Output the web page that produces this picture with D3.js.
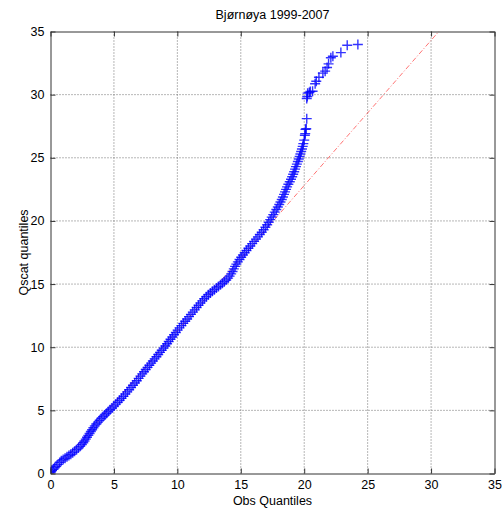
<!DOCTYPE html>
<html>
<head>
<meta charset="utf-8">
<script src="https://cdn.jsdelivr.net/npm/d3@7"></script>
<style>
  html, body { margin: 0; padding: 0; background: #fff; }
  svg text { font-family: "Liberation Sans", Arial, sans-serif; font-size: 12.5px; fill: #000; }
</style>
</head>
<body>
<svg id="chart" width="503" height="508"></svg>
<script>
// Sorted sample quantiles: observed wind speed vs QuikSCAT wind speed (m/s)
const obsQuantiles = [
  0.00, 0.05, 0.12, 0.22, 0.33, 0.45, 0.58, 0.72, 0.85, 1.00,
  1.15, 1.30, 1.45, 1.60, 1.75, 1.90, 2.05, 2.20, 2.34, 2.47,
  2.58, 2.68, 2.78, 2.88, 2.98, 3.08, 3.18, 3.28, 3.38, 3.49,
  3.61, 3.74, 3.87, 4.00, 4.14, 4.28, 4.42, 4.56, 4.70, 4.85,
  5.00, 5.15, 5.30, 5.45, 5.60, 5.75, 5.90, 6.05, 6.20, 6.35,
  6.50, 6.65, 6.80, 6.95, 7.09, 7.23, 7.37, 7.51, 7.65, 7.79,
  7.93, 8.07, 8.21, 8.35, 8.49, 8.63, 8.77, 8.91, 9.05, 9.19,
  9.32, 9.46, 9.60, 9.74, 9.88, 10.02, 10.17, 10.32, 10.47, 10.62,
  10.77, 10.92, 11.07, 11.22, 11.37, 11.52, 11.67, 11.82, 11.97, 12.12,
  12.28, 12.44, 12.60, 12.76, 12.92, 13.08, 13.24, 13.40, 13.55, 13.70,
  13.85, 14.00, 14.12, 14.24, 14.35, 14.45, 14.55, 14.65, 14.77, 14.90,
  15.03, 15.17, 15.31, 15.45, 15.60, 15.75, 15.90, 16.05, 16.20, 16.35,
  16.50, 16.65, 16.80, 16.94, 17.08, 17.20, 17.32, 17.44, 17.56, 17.68,
  17.80, 17.92, 18.03, 18.13, 18.23, 18.32, 18.41, 18.49, 18.57, 18.65,
  18.75, 18.86, 18.96, 19.05, 19.13, 19.21, 19.28, 19.35, 19.42, 19.50,
  19.57, 19.64, 19.70, 19.76, 19.82, 19.88, 19.93,
  20.00, 20.05, 20.08, 20.10, 20.16, 20.20, 20.20, 20.24, 20.27, 20.40,
  20.48, 20.66, 20.86, 20.95, 21.16, 21.47, 21.65, 21.80, 21.92, 22.10,
  22.26, 22.89, 23.39, 24.23
];
const qscatQuantiles = [
  0.05, 0.15, 0.25, 0.33, 0.45, 0.58, 0.72, 0.88, 1.00, 1.10,
  1.21, 1.32, 1.42, 1.53, 1.65, 1.77, 1.89, 2.02, 2.15, 2.29,
  2.43, 2.57, 2.72, 2.87, 3.02, 3.17, 3.32, 3.47, 3.62, 3.77,
  3.92, 4.07, 4.21, 4.35, 4.49, 4.63, 4.77, 4.91, 5.05, 5.19,
  5.34, 5.49, 5.64, 5.80, 5.96, 6.12, 6.29, 6.46, 6.63, 6.81,
  6.99, 7.17, 7.35, 7.53, 7.71, 7.89, 8.06, 8.23, 8.40, 8.57,
  8.74, 8.91, 9.08, 9.25, 9.42, 9.59, 9.76, 9.93, 10.10, 10.27,
  10.45, 10.63, 10.81, 10.99, 11.17, 11.35, 11.53, 11.71, 11.89, 12.06,
  12.24, 12.42, 12.60, 12.78, 12.96, 13.14, 13.32, 13.50, 13.67, 13.84,
  14.00, 14.15, 14.29, 14.43, 14.56, 14.69, 14.81, 14.94, 15.06, 15.19,
  15.32, 15.47, 15.63, 15.81, 16.00, 16.20, 16.40, 16.58, 16.76, 16.94,
  17.12, 17.30, 17.48, 17.66, 17.84, 18.02, 18.20, 18.38, 18.56, 18.74,
  18.92, 19.10, 19.30, 19.50, 19.70, 19.90, 20.10, 20.30, 20.50, 20.70,
  20.90, 21.10, 21.30, 21.50, 21.70, 21.90, 22.10, 22.30, 22.50, 22.70,
  22.90, 23.10, 23.30, 23.50, 23.70, 23.90, 24.10, 24.30, 24.50, 24.70,
  24.90, 25.10, 25.30, 25.50, 25.70, 25.90, 26.12,
  26.40, 26.78, 26.91, 27.25, 27.30, 28.10, 29.70, 29.85, 30.12, 30.16,
  30.25, 30.27, 30.86, 31.06, 31.38, 31.70, 31.86, 32.15, 32.44, 32.92,
  33.04, 33.33, 33.91, 33.97
];

// Reference line through the quartile pairs, extended over the axes
const refLine = { slope: 1.149, intercept: -0.17 };

const axisTicks = [0, 5, 10, 15, 20, 25, 30, 35];
const titleText = "Bjørnøya 1999-2007";
const xLabelText = "Obs Quantiles";
const yLabelText = "Qscat quantiles";

const svg = d3.select("#chart");
const plotLeft = 50.5, plotRight = 494.5, plotTop = 31.5, plotBottom = 473.5;

const x = d3.scaleLinear().domain([0, 35]).range([plotLeft, plotRight]);
const y = d3.scaleLinear().domain([0, 35]).range([plotBottom, plotTop]);

// dotted grid
const grid = svg.append("g").attr("stroke", "#6e6e6e").attr("stroke-width", 1)
  .attr("stroke-dasharray", "1 2");
axisTicks.filter(t => t > 0 && t < 35).forEach(t => {
  grid.append("line").attr("x1", x(t)).attr("x2", x(t)).attr("y1", plotTop).attr("y2", plotBottom);
  grid.append("line").attr("x1", plotLeft).attr("x2", plotRight).attr("y1", y(t)).attr("y2", y(t));
});

// clip to the plot box
svg.append("clipPath").attr("id", "plotClip")
  .append("rect").attr("x", plotLeft).attr("y", plotTop)
  .attr("width", plotRight - plotLeft).attr("height", plotBottom - plotTop);

// dash-dot reference line
const lineX0 = 0, lineX1 = 35;
svg.append("line")
  .attr("clip-path", "url(#plotClip)")
  .attr("x1", x(lineX0)).attr("y1", y(refLine.slope * lineX0 + refLine.intercept))
  .attr("x2", x(lineX1)).attr("y2", y(refLine.slope * lineX1 + refLine.intercept))
  .attr("stroke", "#ff0000").attr("stroke-opacity", 0.55).attr("stroke-width", 1)
  .attr("stroke-dasharray", "5 2 1 2");

// '+' markers
const points = obsQuantiles.map((v, i) => [v, qscatQuantiles[i]]);
const h = 5;
svg.append("g").attr("clip-path", "url(#plotClip)")
  .selectAll("path").data(points).join("path")
  .attr("d", d => {
    const cx = x(d[0]), cy = y(d[1]);
    return `M${cx - h},${cy}H${cx + h}M${cx},${cy - h}V${cy + h}`;
  })
  .attr("fill", "none").attr("stroke", "#0000ff").attr("stroke-width", 1.4)
  .attr("stroke-opacity", 0.8);

// axes with inward ticks on all four sides
const tickLen = -5;
const styleAxis = g => {
  g.select(".domain").attr("stroke", "#333");
  g.selectAll(".tick line").attr("stroke", "#333");
  g.selectAll("text").attr("font-family", "Liberation Sans, Arial, sans-serif")
    .attr("font-size", "12.5px").attr("fill", "#000");
};
svg.append("g").attr("transform", `translate(0,${plotBottom})`)
  .call(d3.axisBottom(x).tickValues(axisTicks).tickSize(tickLen).tickPadding(7).tickSizeOuter(0))
  .call(styleAxis);
svg.append("g").attr("transform", `translate(${plotLeft},0)`)
  .call(d3.axisLeft(y).tickValues(axisTicks).tickSize(tickLen).tickPadding(6).tickSizeOuter(0))
  .call(styleAxis);
svg.append("g").attr("transform", `translate(0,${plotTop})`)
  .call(d3.axisTop(x).tickValues(axisTicks).tickSize(tickLen).tickFormat("").tickSizeOuter(0))
  .call(styleAxis);
svg.append("g").attr("transform", `translate(${plotRight},0)`)
  .call(d3.axisRight(y).tickValues(axisTicks).tickSize(tickLen).tickFormat("").tickSizeOuter(0))
  .call(styleAxis);

// title and axis labels
svg.append("text").attr("x", (plotLeft + plotRight) / 2).attr("y", 19)
  .attr("text-anchor", "middle").text(titleText);
svg.append("text").attr("x", (plotLeft + plotRight) / 2).attr("y", 505)
  .attr("text-anchor", "middle").text(xLabelText);
svg.append("text").attr("transform", `translate(28,${(plotTop + plotBottom) / 2}) rotate(-90)`)
  .attr("text-anchor", "middle").text(yLabelText);
</script>
</body>
</html>
